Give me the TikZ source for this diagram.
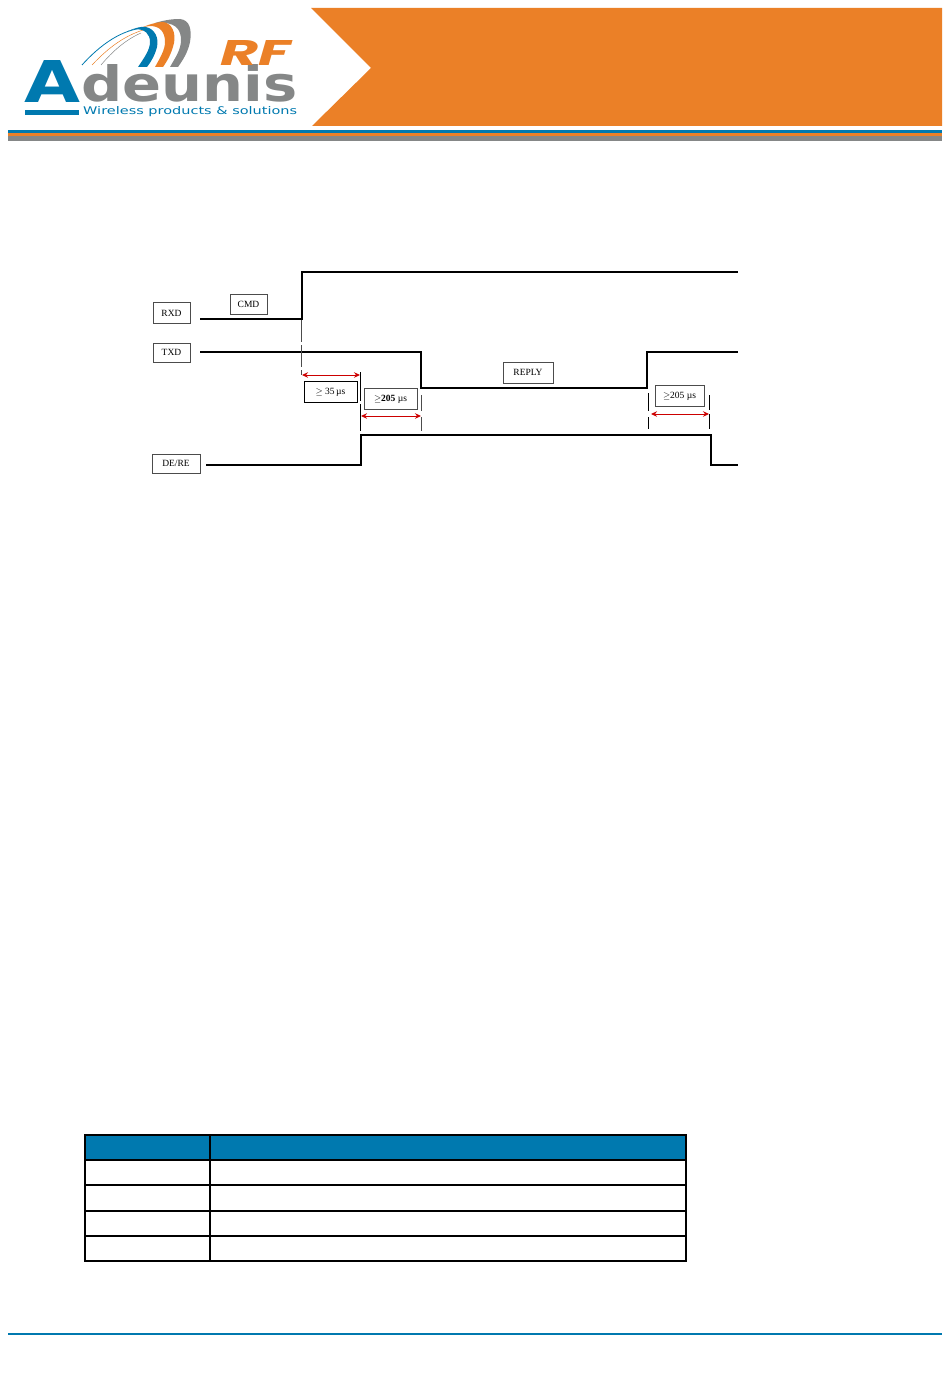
\documentclass[tikz,border=0pt]{standalone}
\usepackage{graphicx}
\usepackage{fontspec}
\setmainfont{Liberation Serif}
\newfontfamily\logofont{DejaVu Sans}
\newfontfamily\rffont{Poppins}
\definecolor{adblue}{HTML}{0079AF}
\definecolor{adorange}{HTML}{EB8027}
\definecolor{adgrey}{HTML}{858787}
\usetikzlibrary{arrows.meta}
\begin{document}
\begin{tikzpicture}%
[x=1pt,y=-1pt,%
sigbox/.style={draw=black!70, line width=.7pt, fill=white, inner sep=0pt, text height=6.3pt, text depth=0pt, font=\fontsize{9.5}{11}\selectfont},%
wave/.style={line width=2.1pt, line join=miter},%
tick/.style={line width=.6pt, black!70},%
span/.style={red!80!black, line width=1pt, {Stealth[length=6pt,width=5.5pt]}-{Stealth[length=6pt,width=5.5pt]}},%
cell/.style={draw=black, line width=1.8pt, line cap=rect},%
logotext/.style={inner sep=0pt, font=\logofont\bfseries}]
\useasboundingbox (0,0) rectangle (950,1378);
% header
\fill[adorange] (311,8) -- (942,8) -- (942,126) -- (312,126) -- (371,68) -- cycle;
\fill[adblue] (8,130) rectangle (942,133.5);
\fill[adorange] (8,133.5) rectangle (942,136);
\fill[adgrey] (8,136) rectangle (942,141);
% logo
\draw[adblue, line width=.8pt] (82,65) .. controls (100,45) and (122,29) .. (145,28);
\draw[adorange, line width=.5pt] (92,65) .. controls (110,46) and (125,36) .. (143,30);
\draw[adgrey, line width=.5pt] (101,65) .. controls (112,52) and (125,40) .. (141,33);
\fill[adgrey] (155,23) .. controls (165,20) and (172,19) .. (180,19) .. controls (190,20) and (192,30) .. (190,42)
  .. controls (188,52) and (183,60) .. (178,67) -- (170,67) .. controls (175,58) and (181,50) .. (181,40)
  .. controls (181,30) and (176,24) .. (165,23) -- cycle;
\fill[adorange] (143,27) .. controls (150,24) and (158,22) .. (163,22) .. controls (172,23) and (176,33) .. (174,43)
  .. controls (172,52) and (168,60) .. (163,67) -- (155,67) .. controls (160,58) and (165,50) .. (165,42)
  .. controls (165,32) and (160,26) .. (150,26) -- cycle;
\fill[adblue] (128,31) .. controls (135,28) and (142,26) .. (146,27) .. controls (155,29) and (159,38) .. (157,47)
  .. controls (155,55) and (151,62) .. (147,67) -- (138,67) .. controls (144,58) and (150,50) .. (150,42)
  .. controls (150,34) and (145,29) .. (135,29) -- cycle;
\node[logotext, text=adblue, anchor=south west] (logoa) at (24,102.5) {\resizebox{56pt}{42pt}{A}};
\node[logotext, text=adgrey, anchor=south west] (logoname) at (81,102.5)
  {\resizebox{216pt}{37pt}{deunis}};
\node[inner sep=0pt, font=\rffont\bfseries\itshape, text=adorange, anchor=south west] (logorf) at (220,66)
  {\resizebox{70pt}{25pt}{RF}};
\fill[adblue] (25,110.5) rectangle (79,115);
\node[inner sep=0pt, anchor=base west, text=adblue, font=\logofont] (logotag) at (83,114.5)
  {\resizebox{214pt}{8pt}{Wireless products \& solutions}};
% timing
\coordinate (rxdstart) at (200,319);
\coordinate (txdstart) at (200,352);
\coordinate (derestart) at (206,465);
\draw[wave] (rxdstart) -| (302,272) -- (738,272);
\draw[wave] (txdstart) -| (421,388) -| (647,352) -- (738,352);
\draw[wave] (derestart) -| (361,435) -| (711,465) -- (738,465);
\node[sigbox, minimum width=37pt, minimum height=21pt] (rxd) at (171.5,313) {RXD};
\node[sigbox, minimum width=37pt, minimum height=19pt] (txd) at (171.5,352.5) {TXD};
\node[sigbox, minimum width=48pt, minimum height=19pt] (dere) at (176,463.5) {DE/RE};
\node[sigbox, minimum width=37pt, minimum height=20pt] (cmd) at (248.5,304) {CMD};
\node[sigbox, minimum width=50pt, minimum height=21pt] (reply) at (528,372.5) {REPLY};
\node[sigbox, draw=black, minimum width=53pt, minimum height=21pt] (mincmd) at (330.5,391.5) {$\geq$ 35\,µs};
\node[sigbox, minimum width=53pt, minimum height=21pt] (minfirst) at (390.5,398.5) {$\geq$\textbf{205} µs};
\node[sigbox, minimum width=49pt, minimum height=21pt] (minlast) at (679.5,395.5) {$\geq$205 µs};
% guide ticks
\draw[tick, dash pattern=on 22pt off 3pt] (301.5,320) -- (301.5,375);
\draw[tick, black] (360.5,372) -- (360.5,401) (360.5,404) -- (360.5,431);
\draw[tick] (421.5,395) -- (421.5,411) (421.5,417) -- (421.5,431);
\draw[tick, black] (648.5,393) -- (648.5,411) (648.5,417) -- (648.5,429);
\draw[tick, black] (709.5,395) -- (709.5,410) (709.5,414) -- (709.5,429);
% spans
\coordinate (cmdleft) at (302,375);
\coordinate (cmdright) at (360,375);
\coordinate (firstleft) at (361,416);
\coordinate (firstright) at (421,416);
\coordinate (lastleft) at (651,414);
\coordinate (lastright) at (709,414);
\draw[span] (cmdleft) -- (cmdright);
\draw[span] (firstleft) -- (firstright);
\draw[span] (lastleft) -- (lastright);
% table
\fill[adblue] (85,1135) rectangle (686,1160);
\foreach \y in {1135,1160,1185,1211,1236,1261}
  \draw[cell] (85,\y) -- (686,\y);
\foreach \x in {85,210,686}
  \draw[cell] (\x,1135) -- (\x,1261);
% footer
\draw[adblue, line width=1.5pt] (8,1334) -- (942,1334);
\end{tikzpicture}
\end{document}
